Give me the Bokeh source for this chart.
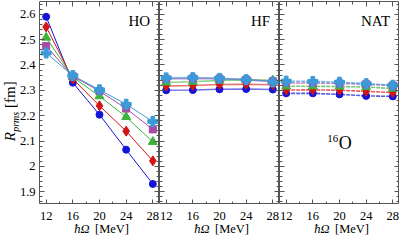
from bokeh.plotting import figure
from bokeh.models import LinearAxis, FixedTicker, Label, Range1d
from bokeh.layouts import row, column
from bokeh.embed import file_html
from bokeh.resources import INLINE

# ---------------- data ----------------
hbar_omega = [12, 16, 20, 24, 28]

ho_blue = [2.590, 2.330, 2.204, 2.066, 1.931]
ho_red = [2.550, 2.345, 2.239, 2.139, 2.022]
ho_green = [2.508, 2.352, 2.277, 2.195, 2.097]
ho_purple = [2.475, 2.355, 2.297, 2.228, 2.146]
ho_cyan = [2.447, 2.358, 2.302, 2.245, 2.177]

hf_blue = [2.300, 2.301, 2.304, 2.305, 2.303]
hf_red = [2.317, 2.319, 2.323, 2.324, 2.322]
hf_green = [2.331, 2.334, 2.339, 2.341, 2.339]
hf_purple = [2.345, 2.347, 2.346, 2.342, 2.336]
hf_cyan = [2.349, 2.350, 2.347, 2.342, 2.333]

nat_blue = [2.288, 2.288, 2.284, 2.278, 2.276]
nat_red = [2.301, 2.302, 2.300, 2.296, 2.291]
nat_green = [2.316, 2.316, 2.315, 2.313, 2.307]
nat_purple = [2.329, 2.329, 2.327, 2.324, 2.319]
nat_cyan = [2.336, 2.335, 2.332, 2.326, 2.320]

panel_names = ["HO", "HF", "NAT"]
x_ticks = [12, 16, 20, 24, 28]
x_tick_labels = ["12", "16", "20", "24", "28"]
x_minor = [12, 14, 16, 18, 20, 22, 24, 26, 28]
y_ticks = [1.9, 2.0, 2.1, 2.2, 2.3, 2.4, 2.5, 2.6]
y_tick_labels = ["1.9", "2", "2.1", "2.2", "2.3", "2.4", "2.5", "2.6"]
y_minor = [round(1.86 + 0.02 * i, 2) for i in range(40)]

# ---------------- style ----------------
FONT = "Liberation Serif"
FRAME = "#555555"
TICKFS = "12.5px"
colors = ["#1414d8", "#d41414", "#3cb43c", "#a64ca6", "#3c9ad8"]
markers = ["circle", "diamond", "triangle", "square", "plus"]
msizes = [7, 10, 9, 7, 10]
H1 = 204      # height of the panel row (1px top border + frame)
H2 = 32       # height of the bottom text row
PW = 120      # panel width
LW = 39       # width of the left text strip
XR = (11, 29)
YR = (1.85, 2.65)
SPAN = XR[1] - XR[0]


def style_axis(ax):
    ax.major_tick_in = 5
    ax.major_tick_out = 0
    ax.minor_tick_in = 3
    ax.minor_tick_out = 0
    ax.axis_line_color = None
    ax.major_tick_line_color = FRAME
    ax.minor_tick_line_color = FRAME
    ax.major_label_text_font_size = "0px"
    ax.major_label_text_color = None
    ax.major_label_standoff = 0


def base_fig(width, height, xr, yr, top=0):
    f = figure(width=width, height=height, x_range=Range1d(*xr), y_range=Range1d(*yr),
               output_backend="svg", toolbar_location=None,
               x_axis_location=None, y_axis_location=None,
               min_border=0, min_border_left=0, min_border_right=0,
               min_border_top=top, min_border_bottom=0)
    f.xgrid.grid_line_color = None
    f.ygrid.grid_line_color = None
    f.outline_line_color = None
    f.background_fill_color = "white"
    f.border_fill_color = "white"
    return f


def make_panel(name, series, dash, alpha, lw):
    p = base_fig(PW, H1, XR, YR, top=1)
    p.outline_line_color = FRAME
    p.outline_line_width = 1
    for loc in ["below", "above"]:
        ax = LinearAxis(ticker=FixedTicker(ticks=x_ticks, minor_ticks=x_minor))
        style_axis(ax)
        p.add_layout(ax, loc)
    for loc in ["left", "right"]:
        ax = LinearAxis(ticker=FixedTicker(ticks=y_ticks, minor_ticks=y_minor))
        style_axis(ax)
        p.add_layout(ax, loc)

    for vals, c, m, s in zip(series, colors, markers, msizes):
        p.line(hbar_omega, vals, line_color=c, line_width=lw, line_alpha=alpha, line_dash=dash)
        p.scatter(hbar_omega, vals, marker=m, size=s, fill_color=c, line_color=c)

    p.add_layout(Label(x=27.6, y=2.574, text=name, text_align="right",
                       text_baseline="alphabetic", text_font=FONT,
                       text_font_size="15px", text_color="black"))
    return p


p1 = make_panel(panel_names[0], [ho_blue, ho_red, ho_green, ho_purple, ho_cyan], "solid", 1.0, 1)
p2 = make_panel(panel_names[1], [hf_blue, hf_red, hf_green, hf_purple, hf_cyan], "solid", 0.6, 1.6)
p3 = make_panel(panel_names[2], [nat_blue, nat_red, nat_green, nat_purple, nat_cyan], "4 1", 0.7, 1.6)

# nucleus label 16O
p3.add_layout(Label(x=19.9, y=2.093, text="O", text_align="left", text_baseline="alphabetic",
                    text_font=FONT, text_font_size="18px", text_color="black"))
p3.add_layout(Label(x=19.9, y=2.112, x_offset=-0.5, text="16", text_align="right",
                    text_baseline="alphabetic", text_font=FONT, text_font_size="11px",
                    text_color="black"))

# left strip: y tick labels + y title  R_prms [fm]
yt = base_fig(LW, H1, (0, LW), YR, top=1)
for v, t in zip(y_ticks, y_tick_labels):
    yt.add_layout(Label(x=35, y=v, x_units="screen", text=t, text_align="right",
                        text_baseline="middle", text_font=FONT, text_font_size=TICKFS,
                        text_color="black"))
yt.add_layout(Label(x=9, y=2.117, x_units="screen", text="R", angle=1.5708,
                    text_align="center", text_baseline="middle", text_font=FONT,
                    text_font_style="italic", text_font_size="15px", text_color="black"))
yt.add_layout(Label(x=14.7, y=2.176, x_units="screen", text="prms", angle=1.5708,
                    text_align="center", text_baseline="middle", text_font=FONT,
                    text_font_style="italic", text_font_size="10px", text_color="black"))
yt.add_layout(Label(x=9, y=2.283, x_units="screen", text="[fm]", angle=1.5708,
                    text_align="center", text_baseline="middle", text_font=FONT,
                    text_font_size="15px", text_color="black"))

# bottom strip (one canvas under all panels): x tick labels + x titles  ħΩ [MeV]
x_left = XR[0] - LW * SPAN / PW
bs = base_fig(LW + 3 * PW, H2, (x_left, XR[0] + 3 * SPAN), (0, 1))
for k in range(3):
    for v, t in zip(x_ticks, x_tick_labels):
        bs.add_layout(Label(x=v + k * SPAN, y=20.5, y_units="screen", text=t,
                            text_align="center", text_baseline="alphabetic", text_font=FONT,
                            text_font_size=TICKFS, text_color="black"))
    mid = (XR[0] + XR[1]) / 2 + k * SPAN
    bs.add_layout(Label(x=mid, y=8, y_units="screen", x_offset=-10, text="ħΩ",
                        text_align="right", text_baseline="alphabetic", text_font=FONT,
                        text_font_style="italic", text_font_size="12.5px", text_color="black"))
    bs.add_layout(Label(x=mid, y=8, y_units="screen", x_offset=-4.5, text="[MeV]",
                        text_align="left", text_baseline="alphabetic", text_font=FONT,
                        text_font_size="12.5px", text_color="black"))

layout = column(row(yt, p1, p2, p3), bs)
open("out.html", "w").write(file_html(layout, INLINE))
